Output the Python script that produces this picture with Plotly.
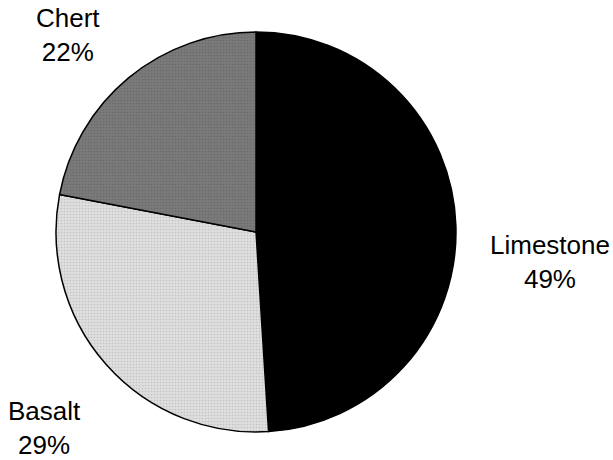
import plotly.graph_objects as go

labels = ["Limestone", "Basalt", "Chert"]
values = [49, 29, 22]
colors = ["#000000", "#dedede", "#7a7a7a"]
pattern_fg = ["#000000", "#a8a8a8", "#5a5a5a"]
pattern_shape = ["", ".", "."]

# label positions (paper coords)
label_pos = {"Limestone": (0.897, 0.430), "Basalt": (0.073, 0.070), "Chert": (0.111, 0.924)}

fig = go.Figure()
fig.add_trace(go.Pie(
    labels=labels,
    values=values,
    sort=False,
    direction="clockwise",
    rotation=0,
    textinfo="none",
    hoverinfo="label+percent",
    marker=dict(
        colors=colors,
        line=dict(color="#000000", width=1.5),
        pattern=dict(shape=pattern_shape, fgcolor=pattern_fg, size=3, solidity=0.25, fillmode="overlay"),
    ),
    domain=dict(x=[56/613, 456/613], y=[1-432/460, 1-32/460]),
    showlegend=False,
))

total = sum(values)
for lab, val in zip(labels, values):
    x, y = label_pos[lab]
    fig.add_annotation(
        x=x, y=y, xref="paper", yref="paper",
        text=f"{lab}<br>{round(100*val/total)}%",
        showarrow=False, xanchor="center", yanchor="middle",
        font=dict(family="Liberation Sans, Arial, sans-serif", size=26, color="#000000"),
        align="center",
    )

fig.update_layout(
    width=613, height=460,
    margin=dict(l=0, r=0, t=0, b=0),
    paper_bgcolor="white", plot_bgcolor="white",
)

fig.write_html("out.html")
